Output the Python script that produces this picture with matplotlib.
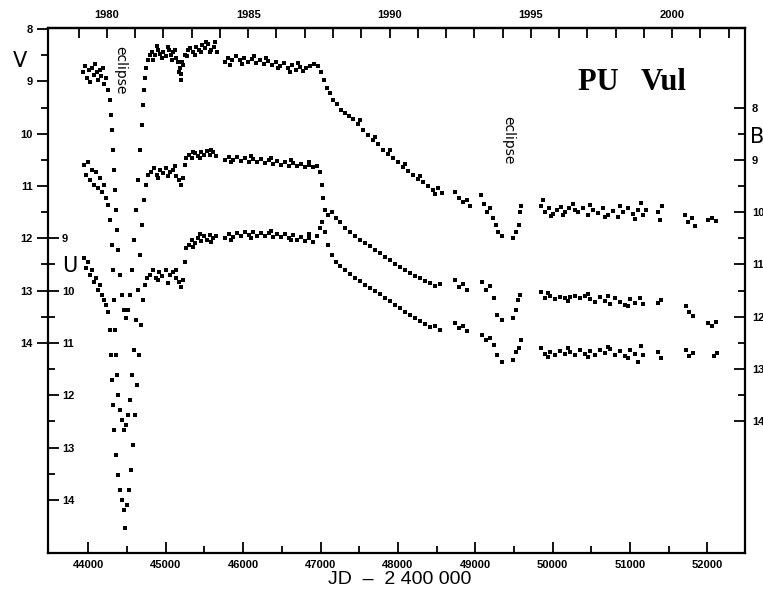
import matplotlib
matplotlib.use("Agg")
import matplotlib.pyplot as plt
from matplotlib.ticker import FixedLocator, NullFormatter

# ---- data (JD - 2400000, magnitude) ----
v_jd = [43931, 43957, 43983, 44009, 44022, 44048, 44074, 44087, 44112, 44125, 44151, 44164, 44190, 44203, 44229,
        44255, 44280, 44293, 44306, 44319, 44332, 44345, 44358, 44371, 44384, 44410, 44435, 44461, 44487, 44513,
        44539, 44565, 44590, 44616, 44642, 44668, 44694, 44707, 44720, 44733, 44745, 44771,
        44797, 44823, 44862, 44901, 44926, 44965, 45004, 45043, 45068, 45094, 45133, 45159, 45185, 45198, 45223,
        45249, 45288, 45314, 45353, 45391, 45430, 45469, 45507, 45546, 45585, 45624, 45662,
        45766, 45804, 45856, 45908, 45960, 46011, 46063, 46115, 46166, 46218, 46270, 46321, 46373, 46425, 46477,
        46528, 46580, 46632, 46683, 46735, 46774, 46813,
        46865, 46917, 46968, 47007, 47046, 47085, 47123, 47162, 47214, 47265, 47317, 47369, 47420, 47485, 47549,
        47614, 47678, 47743, 47808, 47872, 47937, 48001, 48066, 48130, 48195, 48259, 48324, 48388, 48453, 48517, 48569,
        48737, 48789, 48841, 48892, 48931,
        49073, 49112, 49151, 49190, 49228, 49267, 49293, 49345, 49487, 49526, 49565, 49578, 49591,
        49849, 49901, 49953, 50004, 50056, 50108, 50159, 50211, 50263, 50327, 50392, 50456, 50521, 50585, 50650,
        50714, 50779, 50843, 50908, 50973, 51037, 51102, 51141, 51166, 51205, 51360, 51386, 51412, 51710, 51748,
        51800, 51839, 52007, 52059, 52110]
v_mag = [8.82, 8.71, 8.94, 8.78, 9.01, 8.75, 8.88, 8.67, 8.82, 8.98, 8.78, 8.90, 8.75, 9.05, 8.94,
         9.17, 9.36, 9.64, 9.93, 10.31, 10.70, 11.08, 11.46, 11.84, 12.23, 12.70, 13.09, 13.37, 13.53, 13.37,
         13.09, 12.61, 12.03, 11.46, 10.89, 10.31, 9.84, 9.45, 9.17, 8.94, 8.75, 8.59,
         8.50, 8.44, 8.50, 8.40, 8.48, 8.44, 8.52, 8.40, 8.50, 8.44, 8.55, 8.63, 8.75, 8.86, 8.69,
         8.50, 8.40, 8.36, 8.44, 8.34, 8.40, 8.31, 8.36, 8.29, 8.40, 8.34, 8.44,
         8.63, 8.55, 8.59, 8.52, 8.59, 8.55, 8.63, 8.57, 8.65, 8.59, 8.67, 8.61, 8.69, 8.63, 8.71,
         8.65, 8.75, 8.69, 8.78, 8.72, 8.80, 8.75,
         8.71, 8.67, 8.71, 8.82, 8.98, 9.13, 9.22, 9.36, 9.43, 9.55, 9.61, 9.66, 9.72, 9.82, 9.93,
         10.03, 10.12, 10.20, 10.31, 10.39, 10.47, 10.54, 10.64, 10.72, 10.79, 10.87, 10.93, 11.00, 11.08, 11.04, 11.14,
         11.12, 11.23, 11.31, 11.27, 11.38,
         11.18, 11.35, 11.50, 11.42, 11.61, 11.75, 11.88, 11.96, 11.99, 11.88, 11.75, 11.50, 11.38,
         11.38, 11.50, 11.42, 11.54, 11.46, 11.40, 11.50, 11.42, 11.35, 11.50, 11.42, 11.56, 11.46, 11.52, 11.42,
         11.56, 11.48, 11.59, 11.50, 11.42, 11.54, 11.46, 11.33, 11.56, 11.46, 11.50, 11.65, 11.38, 11.56, 11.69,
         11.61, 11.77, 11.65, 11.61, 11.67]
# extra V points in the thick, scattered parts of the curve
v_extra_jd = [44836, 44888, 44952, 45030, 45081, 45120, 45172, 45198, 45210, 45275, 45378, 45456, 45520, 45572,
              45637, 45830, 45985, 46140, 46295, 46450, 46606, 46709,
              47510, 47704, 47898, 48091, 48285, 48479,
              49875, 49979, 50134, 50288, 50482, 50676, 50869, 51063]
v_extra_mag = [8.59, 8.32, 8.55, 8.34, 8.59, 8.40, 8.82, 8.98, 8.63, 8.52, 8.50, 8.44, 8.25, 8.44,
               8.25, 8.69, 8.67, 8.52, 8.55, 8.75, 8.82, 8.65,
               9.74, 10.06, 10.31, 10.58, 10.81, 11.16,
               11.27, 11.58, 11.56, 11.46, 11.37, 11.59, 11.38, 11.63]

b_jd = [43945, 43970, 43996, 44022, 44048, 44074, 44100, 44125, 44151, 44177, 44203, 44229, 44255,
        44280, 44306, 44319, 44332, 44345, 44358, 44371, 44384, 44410, 44435, 44461, 44487, 44513, 44539,
        44565, 44590, 44616, 44642, 44668, 44694, 44720, 44745, 44771,
        44810, 44849, 44888, 44926, 44965, 45004, 45055, 45094, 45133, 45172, 45198, 45223, 45249,
        45262, 45301, 45340, 45378, 45417, 45456, 45495, 45533, 45572, 45611, 45650,
        45766, 45818, 45869, 45921, 45973, 46024, 46076, 46128, 46179, 46231, 46283, 46334, 46386, 46438,
        46490, 46541, 46593, 46645, 46696, 46748, 46800, 46851, 46903, 46955,
        46994, 47020, 47033, 47059, 47098, 47149, 47201, 47253, 47317, 47381, 47446, 47510, 47575, 47640,
        47704, 47769, 47833, 47898, 47962, 48027, 48091, 48156, 48220, 48285, 48349, 48414, 48479, 48543,
        48737, 48789, 48841, 48892,
        49086, 49138, 49190, 49241, 49280, 49345, 49487, 49526, 49552, 49578,
        49849, 49901, 49966, 50030, 50095, 50159, 50224, 50288, 50353, 50417, 50482, 50547, 50611, 50676,
        50740, 50805, 50869, 50934, 50999, 51063, 51128, 51166, 51360, 51399, 51723, 51762, 51813, 52007,
        52059, 52110]
b_mag = [9.10, 9.29, 9.04, 9.39, 9.20, 9.48, 9.23, 9.54, 9.35, 9.62, 9.48, 9.73, 9.87,
         10.15, 10.63, 11.11, 11.68, 12.26, 12.73, 13.12, 13.50, 13.78, 13.98, 14.17, 14.07, 13.88, 13.59,
         13.12, 12.64, 12.06, 11.49, 10.82, 10.25, 9.77, 9.48, 9.29,
         9.23, 9.15, 9.29, 9.20, 9.25, 9.15, 9.23, 9.20, 9.31, 9.39, 9.48, 9.35, 9.10,
         8.97, 8.91, 8.97, 8.87, 8.93, 8.85, 8.91, 8.83, 8.91, 8.85, 8.93,
         9.00, 8.95, 9.00, 8.95, 9.02, 8.97, 9.04, 8.98, 9.04, 8.98, 9.06, 9.00, 9.08, 9.02,
         9.10, 9.04, 9.12, 9.06, 9.12, 9.08, 9.14, 9.10, 9.14, 9.12,
         9.23, 9.48, 9.73, 9.96, 10.06, 10.00, 10.11, 10.19, 10.30, 10.38, 10.46, 10.53, 10.59, 10.65,
         10.73, 10.78, 10.86, 10.92, 10.99, 11.05, 11.11, 11.17, 11.22, 11.26, 11.32, 11.36, 11.41, 11.37,
         11.30, 11.43, 11.37, 11.49,
         11.34, 11.49, 11.41, 11.64, 11.97, 12.06, 12.03, 11.87, 11.68, 11.59,
         11.53, 11.64, 11.61, 11.66, 11.62, 11.64, 11.62, 11.61, 11.64, 11.61, 11.66, 11.72, 11.62, 11.70,
         11.76, 11.64, 11.72, 11.78, 11.66, 11.74, 11.64, 11.76, 11.74, 11.68, 11.80, 11.91, 11.99, 12.12,
         12.18, 12.10]
b_extra_jd = [44901, 45030, 45120, 45353, 45443, 45585, 45843, 46101, 46360, 46619, 46851,
              49940, 50198, 50456, 50714, 50973]
b_extra_mag = [9.35, 9.31, 9.12, 8.85, 8.97, 8.81, 9.04, 8.93, 8.97, 9.00, 9.04,
               11.55, 11.70, 11.57, 11.61, 11.80]

u_jd = [43945, 43970, 43996, 44022, 44048, 44074, 44100, 44125, 44151, 44177, 44203, 44229, 44255,
        44280, 44293, 44306, 44319, 44332, 44358, 44384, 44410, 44435, 44461, 44474, 44500, 44526, 44552,
        44577, 44603, 44629, 44655, 44681, 44707, 44733, 44758,
        44797, 44836, 44875, 44914, 44952, 45004, 45055, 45094, 45133, 45172, 45198, 45223, 45249,
        45262, 45301, 45340, 45378, 45417, 45456, 45495, 45533, 45572, 45611, 45650,
        45766, 45818, 45869, 45921, 45973, 46024, 46076, 46128, 46179, 46231, 46283, 46334, 46386, 46438,
        46490, 46541, 46593, 46645, 46696, 46748, 46800, 46851, 46903, 46955,
        46994, 47020, 47059, 47098, 47149, 47201, 47253, 47317, 47381, 47446, 47510, 47575, 47640, 47704,
        47769, 47833, 47898, 47962, 48027, 48091, 48156, 48220, 48285, 48349, 48414, 48479, 48543,
        48737, 48789, 48841, 48892,
        49086, 49138, 49190, 49241, 49280, 49345, 49487, 49526, 49565, 49591,
        49849, 49901, 49966, 50030, 50095, 50159, 50224, 50288, 50353, 50417, 50482, 50547, 50611, 50676,
        50740, 50805, 50869, 50934, 50999, 51063, 51102, 51141, 51166, 51360, 51399, 51723, 51762, 51813,
        52084, 52123]
u_mag = [9.38, 9.57, 9.46, 9.70, 9.61, 9.84, 9.76, 9.99, 9.90, 10.09, 10.18, 10.28, 10.41,
         10.76, 11.23, 11.71, 12.19, 12.67, 13.15, 13.53, 13.81, 14.01, 14.20, 14.54, 14.10, 13.81, 13.43,
         12.95, 12.38, 11.81, 11.23, 10.66, 10.18, 9.90, 9.76,
         9.70, 9.61, 9.76, 9.65, 9.72, 9.61, 9.70, 9.65, 9.76, 9.84, 9.93, 9.80, 9.46,
         9.19, 9.13, 9.03, 9.09, 9.00, 9.05, 8.96, 9.03, 8.94, 9.00, 8.96,
         9.00, 8.92, 8.98, 8.90, 8.96, 8.88, 8.94, 8.88, 8.96, 8.90, 8.96, 8.90, 8.98, 8.92,
         8.98, 8.92, 9.00, 8.94, 9.03, 8.98, 9.05, 9.00, 9.07, 8.96,
         8.80, 8.69, 8.88, 9.13, 9.32, 9.46, 9.53, 9.61, 9.69, 9.76, 9.82, 9.90, 9.95, 10.01,
         10.07, 10.14, 10.20, 10.28, 10.33, 10.41, 10.47, 10.53, 10.58, 10.64, 10.70, 10.68, 10.76,
         10.62, 10.72, 10.68, 10.77,
         10.85, 10.95, 10.91, 11.04, 11.23, 11.37, 11.33, 11.18, 11.10, 10.95,
         11.10, 11.21, 11.18, 11.23, 11.16, 11.21, 11.18, 11.23, 11.14, 11.21, 11.16, 11.23, 11.14, 11.20,
         11.12, 11.23, 11.16, 11.25, 11.14, 11.21, 11.37, 11.06, 11.23, 11.18, 11.29, 11.14, 11.25, 11.20,
         11.25, 11.20]
u_extra_jd = [44901, 45030, 45133, 45353, 45443, 45585, 45843, 46101, 46360, 46619, 46851,
              49940, 50198, 50456, 50714, 50973]
u_extra_mag = [9.80, 9.86, 9.61, 9.17, 8.92, 9.07, 9.03, 9.00, 8.86, 9.03, 8.92,
               11.27, 11.10, 11.27, 11.08, 11.29]

jd_ticks = [44000, 45000, 46000, 47000, 48000, 49000, 50000, 51000, 52000]
year_labels = [1980, 1985, 1990, 1995, 2000]
v_ticks = [8, 9, 10, 11, 12, 13, 14]
b_ticks = [8, 9, 10, 11, 12, 13, 14]
u_ticks = [9, 10, 11, 12, 13, 14]
eclipse_jd = [44410, 49420]
eclipse_mag = [8.78, 10.12]

tick_font = dict(family="Liberation Sans", size=8, weight="bold")

fig = plt.figure(figsize=(7.63, 5.92), dpi=100)
ax = fig.add_axes([48 / 763, 1 - 552.7 / 592, 697 / 763, 524.7 / 592])
ax.set_xlim(43479, 52485)
ax.set_ylim(18.01, 7.98)

ax_b = ax.twinx()
ax_b.set_ylim(18.01 - 1.5, 7.98 - 1.5)
ax_u = ax.twinx()
ax_u.set_ylim(18.01 - 3.0, 7.98 - 3.0)
ax_u.spines["right"].set_position(("axes", 0.0))
for a in (ax_b, ax_u):
    for s in a.spines.values():
        s.set_visible(False)
for s in ax.spines.values():
    s.set_linewidth(1.6)

mk = dict(ls="none", marker="s", ms=2.7, mew=0, color="black")
ax.plot(v_jd + v_extra_jd, v_mag + v_extra_mag, **mk)
ax_b.plot(b_jd + b_extra_jd, b_mag + b_extra_mag, **mk)
ax_u.plot(u_jd + u_extra_jd, u_mag + u_extra_mag, **mk)

# bottom JD axis
ax.xaxis.set_major_locator(FixedLocator(jd_ticks))
ax.xaxis.set_minor_locator(FixedLocator([t + 500 for t in jd_ticks]))
ax.tick_params(axis="x", which="major", direction="in", length=8, width=1.3, pad=5)
ax.tick_params(axis="x", which="minor", direction="in", length=5, width=1.3)
for lb in ax.get_xticklabels():
    lb.set(**tick_font)

# left V axis
ax.yaxis.set_major_locator(FixedLocator(v_ticks))
ax.yaxis.set_minor_locator(FixedLocator([t + 0.5 for t in v_ticks[:-1]]))
ax.tick_params(axis="y", which="major", direction="out", length=8, width=1.3, pad=3)
ax.tick_params(axis="y", which="minor", direction="out", length=5, width=1.3)
for lb in ax.get_yticklabels():
    lb.set(**tick_font)

# right B axis
ax_b.yaxis.set_major_locator(FixedLocator(b_ticks))
ax_b.yaxis.set_minor_locator(FixedLocator([t + 0.5 for t in b_ticks[:-1]]))
ax_b.tick_params(axis="y", which="major", direction="in", length=8, width=1.3, pad=5)
ax_b.tick_params(axis="y", which="minor", direction="in", length=5, width=1.3)
for lb in ax_b.get_yticklabels():
    lb.set(**tick_font)

# inner U axis on the left spine
ax_u.yaxis.set_major_locator(FixedLocator(u_ticks))
ax_u.yaxis.set_minor_locator(FixedLocator([t + 0.5 for t in u_ticks[:-1]]))
ax_u.tick_params(axis="y", which="major", direction="out", length=8, width=1.3, pad=2)
ax_u.tick_params(axis="y", which="minor", direction="out", length=5, width=1.3)
for lb in ax_u.get_yticklabels():
    lb.set(**tick_font)

# top calendar-year axis
top = ax.secondary_xaxis("top", functions=(lambda jd: 2000 + (jd - 51544.5) / 365.25,
                                            lambda yr: 51544.5 + (yr - 2000) * 365.25))
top.xaxis.set_major_locator(FixedLocator(year_labels))
top.xaxis.set_minor_locator(FixedLocator(list(range(1979, 2003))))
top.xaxis.set_minor_formatter(NullFormatter())
top.tick_params(axis="x", which="both", direction="in", length=7, width=1.3, pad=6)
top.spines["top"].set_linewidth(1.6)
for lb in top.get_xticklabels():
    lb.set(**tick_font)

for x, y in zip(eclipse_jd, eclipse_mag):
    ax.text(x, y, "eclipse", rotation=270, ha="center", va="center",
            fontsize=10, family="DejaVu Sans")

fig.text(20 / 763, 1 - 61 / 592, "V", fontsize=15, ha="center", va="center", family="DejaVu Sans")
fig.text(70 / 763, 1 - 266 / 592, "U", fontsize=15, ha="center", va="center", family="DejaVu Sans")
fig.text(750 / 763, 1 - 137 / 592, "B", fontsize=15, ha="left", va="center", family="DejaVu Sans")
fig.text(632 / 763, 1 - 83 / 592, "PU   Vul", fontsize=22, weight="bold",
         family="Liberation Serif", ha="center", va="center")
fig.text(400 / 763, 1 - 579 / 592, "JD  \u2013  2 400 000", fontsize=14,
         family="Liberation Sans", ha="center", va="center")

fig.savefig("out.png", dpi=100)
